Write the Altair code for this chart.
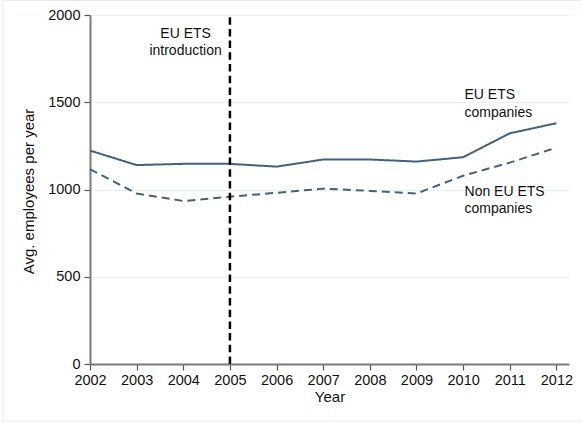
import altair as alt
import pandas as pd

# Average employees per year, 2002-2012
years = [2002, 2003, 2004, 2005, 2006, 2007, 2008, 2009, 2010, 2011, 2012]
eu_ets = [1223, 1140, 1147, 1147, 1131, 1172, 1172, 1160, 1185, 1322, 1380]
non_eu_ets = [1117, 977, 934, 959, 981, 1005, 992, 977, 1079, 1154, 1240]

series_names = ["EU ETS companies", "Non EU ETS companies"]
policy_year = 2005

df = pd.DataFrame(
    {
        "Year": years * 2,
        "Employees": eu_ets + non_eu_ets,
        "Group": [series_names[0]] * len(years) + [series_names[1]] * len(years),
    }
)

FONT = "Liberation Sans"
LINE_COLOR = "#41627f"

x_scale = alt.Scale(domain=[2002, 2012.27], nice=False, zero=False)
y_scale = alt.Scale(domain=[0, 2000], nice=False)

lines = (
    alt.Chart(df)
    .mark_line(strokeWidth=2, color=LINE_COLOR)
    .encode(
        x=alt.X(
            "Year:Q",
            scale=x_scale,
            axis=alt.Axis(
                values=years,
                format="d",
                title="Year",
                grid=False,
                titleX=239.5,
                titleY=37,
                titleBaseline="alphabetic",
                titleAnchor="middle",
                labelPadding=3,
                labelOverlap=False,
                labelFlush=False,
            ),
        ),
        y=alt.Y(
            "Employees:Q",
            scale=y_scale,
            axis=alt.Axis(
                values=[0, 500, 1000, 1500, 2000],
                format="d",
                title="Avg. employees per year",
                grid=True,
                titleX=-57,
                titleY=176,
                titleBaseline="alphabetic",
                titleAngle=-90,
                labelPadding=4,
                labelOverlap=False,
                labelFlush=False,
            ),
        ),
        strokeDash=alt.StrokeDash(
            "Group:N",
            scale=alt.Scale(domain=series_names, range=[[1, 0], [8, 5]]),
            legend=None,
        ),
    )
)

policy_line = (
    alt.Chart(pd.DataFrame({"Year": [policy_year], "lo": [0], "hi": [2000]}))
    .mark_rule(color="black", strokeWidth=2.5, strokeDash=[7.5, 4.2])
    .encode(x=alt.X("Year:Q", scale=x_scale), y=alt.Y("lo:Q", scale=y_scale), y2="hi:Q")
)

notes = pd.DataFrame(
    {
        "x": [2004.05, 2010.03, 2010.03],
        "y": [1870, 1518, 963],
        "text": [["EU ETS", "introduction"], ["EU ETS", "companies"], ["Non EU ETS", "companies"]],
    }
)

note_center = (
    alt.Chart(notes.iloc[[0]])
    .mark_text(font=FONT, fontSize=14, color="#111111", align="center",
               baseline="alphabetic", lineHeight=17.5)
    .encode(x=alt.X("x:Q", scale=x_scale), y=alt.Y("y:Q", scale=y_scale), text="text")
)
note_left = (
    alt.Chart(notes.iloc[1:])
    .mark_text(font=FONT, fontSize=14, color="#111111", align="left",
               baseline="alphabetic", lineHeight=17.5)
    .encode(x=alt.X("x:Q", scale=x_scale), y=alt.Y("y:Q", scale=y_scale), text="text")
)

# Faint outline around the whole graph region
frame = (
    alt.Chart(pd.DataFrame({"k": [0]}))
    .mark_rect(fill=None, stroke="#e6eef0", strokeWidth=1.2)
    .encode(
        x=alt.value(-87),
        x2=alt.value(496),
        y=alt.value(-14.5),
        y2=alt.value(406),
    )
)

chart = (
    alt.layer(frame, lines, policy_line, note_center, note_left)
    .properties(
        width=479,
        height=349,
        autosize=alt.AutoSizeParams(type="none"),
        padding={"left": 90, "top": 15, "right": 13, "bottom": 60},
        background="white",
    )
    .configure_view(stroke=None)
    .configure_axis(
        labelFont=FONT,
        labelFontSize=14.5,
        labelColor="#111111",
        titleFont=FONT,
        titleFontSize=15,
        titleFontWeight="normal",
        titleColor="#111111",
        domainColor="#7a7a7a",
        domainWidth=2,
        tickColor="#555555",
        tickWidth=1.2,
        tickSize=6,
        gridColor="#e6eff1",
        gridWidth=1,
    )
)

chart.save("out.html", embed_options={"renderer": "svg", "actions": False})
